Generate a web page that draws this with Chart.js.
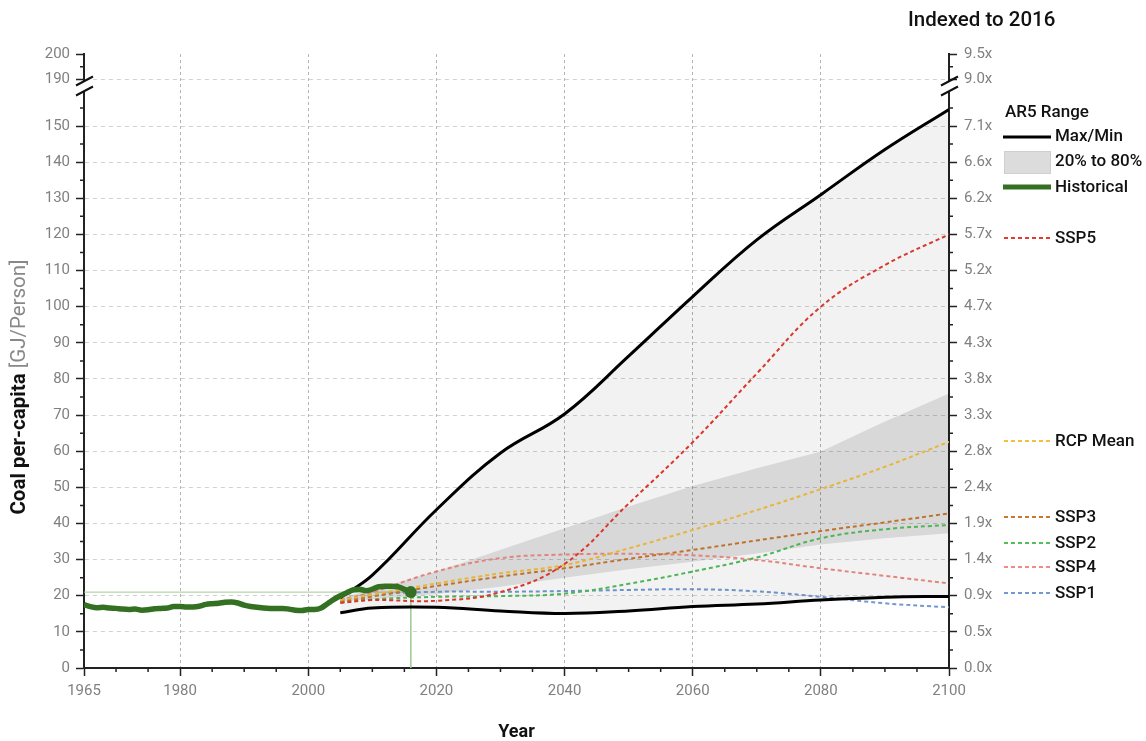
<!DOCTYPE html>
<html>
<head>
<meta charset="utf-8">
<script src="https://cdn.jsdelivr.net/npm/chart.js@4.4.1/dist/chart.umd.min.js"></script>
<style>
  html, body { margin: 0; padding: 0; background: #fff; }
  #wrap { width: 1146px; height: 741px; }
</style>
</head>
<body>
<div id="wrap"><canvas id="coalChart"></canvas></div>
<script>
// Historical coal per-capita (GJ/person), 1965-2016
const histYears = [];
for (let y = 1965; y <= 2016; y++) histYears.push(y);
const histValues = [17.5, 17.0, 16.7, 16.8, 16.6, 16.5, 16.3, 16.2, 16.3, 16.0,
    16.1, 16.4, 16.5, 16.6, 17.0, 17.0, 16.9, 16.9, 17.1, 17.6,
    17.8, 17.9, 18.2, 18.3, 18.0, 17.4, 17.0, 16.8, 16.6, 16.5,
    16.5, 16.5, 16.3, 16.0, 15.9, 16.2, 16.2, 16.6, 17.8, 19.0,
    20.0, 20.8, 21.6, 21.8, 21.4, 21.8, 22.5, 22.6, 22.6, 22.5,
    21.8, 21.0];

// AR5 / SSP projections
const projYears = [2005, 2010, 2020, 2030, 2040, 2050, 2060, 2070, 2080, 2090, 2100];
const ar5Max  = [19.5, 25.7, 43.8, 59.5, 70.3, 86.3, 102.8, 118.5, 131.0, 143.5, 154.6];
const ar5Min  = [15.3, 16.6, 16.8, 15.8, 15.1, 15.8, 17.0, 17.7, 18.8, 19.6, 19.8];
const ar5P80  = [19.5, 21.6, 26.7, 32.7, 38.7, 44.7, 50.4, 55.3, 59.9, 68.2, 76.0];
const ar5P20  = [18.5, 19.0, 20.5, 22.5, 25.0, 27.3, 29.4, 31.7, 34.2, 35.9, 37.3];
const ssp5    = [18.0, 18.8, 18.6, 21.0, 28.8, 45.5, 62.5, 81.5, 100.0, 111.5, 120.0];
const rcpMean = [18.8, 20.3, 23.4, 26.2, 28.5, 33.1, 38.2, 43.7, 49.5, 55.7, 62.6];
const ssp3    = [18.4, 19.8, 22.7, 25.3, 27.6, 30.2, 32.7, 35.3, 37.9, 40.3, 42.8];
const ssp2    = [18.2, 19.0, 19.7, 19.9, 20.6, 23.3, 26.7, 30.6, 35.9, 38.4, 39.6];
const ssp4    = [18.8, 21.0, 26.7, 30.4, 31.4, 31.6, 31.2, 29.9, 27.6, 25.5, 23.4];
const ssp1    = [19.0, 20.3, 21.1, 21.1, 21.3, 21.6, 21.8, 21.2, 19.7, 17.9, 16.8];

// Axis ticks
const xTickLabels = [1965, 1980, 2000, 2020, 2040, 2060, 2080, 2100];
const leftTicks = [0, 10, 20, 30, 40, 50, 60, 70, 80, 90, 100, 110, 120, 130, 140, 150];
const rightTickLabels = ['0.0x', '0.5x', '0.9x', '1.4x', '1.9x', '2.4x', '2.8x', '3.3x',
    '3.8x', '4.3x', '4.7x', '5.2x', '5.7x', '6.2x', '6.6x', '7.1x'];
const topTicks = [190, 200];
const topRightLabels = ['9.0x', '9.5x'];

const pts = (xs, ys) => xs.map((x, i) => ({ x: x, y: ys[i] }));
const lastHist = histValues[histValues.length - 1];
const FONT = 'Roboto, "Noto Sans", sans-serif';

const GREEN = '#337022';
const COLORS = {
    ssp5: '#e53a2f', rcp: '#f4bf3e', ssp3: '#c9782e',
    ssp2: '#52bf5a', ssp4: '#ef8c84', ssp1: '#7399d4'
};

function dashed(label, data, color) {
    return {
        label: label, data: pts(projYears, data), yAxisID: 'y', borderColor: color, borderWidth: 2,
        borderDash: [4, 3], pointRadius: 0, fill: false, tension: 0.4, order: 2
    };
}

// minor ticks, axis breaks, y title, right legend
const decorPlugin = {
    id: 'decor',
    afterDraw(chart) {
        const ctx = chart.ctx;
        const { left, right, bottom } = chart.chartArea;
        const sx = chart.scales.x, sy = chart.scales.y, sTop = chart.scales.yTop;
        ctx.save();
        ctx.strokeStyle = '#222';
        ctx.lineWidth = 1.5;
        ctx.beginPath();
        for (let yr = 1965; yr <= 2100; yr += 5) {
            if (xTickLabels.includes(yr)) continue;
            const px = sx.getPixelForValue(yr);
            ctx.moveTo(px, bottom); ctx.lineTo(px, bottom + 4);
        }
        for (let v = 5; v <= 155; v += 10) {
            const py = sy.getPixelForValue(v);
            ctx.moveTo(left - 4, py); ctx.lineTo(left, py);
            ctx.moveTo(right, py); ctx.lineTo(right + 4, py);
        }
        const py195 = sTop.getPixelForValue(195);
        ctx.moveTo(left - 4, py195); ctx.lineTo(left, py195);
        ctx.moveTo(right, py195); ctx.lineTo(right + 4, py195);
        ctx.stroke();

        // axis breaks
        const brk = sy.top;
        [left, right].forEach(ax => {
            ctx.fillStyle = '#fff';
            ctx.fillRect(ax - 2, brk - 5, 4, 9);
            ctx.strokeStyle = '#111';
            ctx.lineWidth = 2;
            ctx.beginPath();
            [-6, 4].forEach(off => {
                const yc = brk + off;
                ctx.moveTo(ax - 8, yc + 4.5);
                ctx.lineTo(ax + 9, yc - 4.5);
            });
            ctx.stroke();
        });

        // y axis title with two styles
        ctx.save();
        ctx.translate(20, 387);
        ctx.rotate(-Math.PI / 2);
        ctx.textBaseline = 'middle';
        ctx.textAlign = 'left';
        const boldPart = 'Coal per-capita ';
        const thinPart = '[GJ/Person]';
        ctx.font = 'bold 20.5px ' + FONT;
        const w1 = ctx.measureText(boldPart).width;
        ctx.font = '20.5px ' + FONT;
        const w2 = ctx.measureText(thinPart).width;
        const start = -(w1 + w2) / 2;
        ctx.font = 'bold 20.5px ' + FONT;
        ctx.fillStyle = '#111';
        ctx.fillText(boldPart, start, 0);
        ctx.font = '20.5px ' + FONT;
        ctx.fillStyle = '#888';
        ctx.fillText(thinPart, start + w1, 0);
        ctx.restore();

        // index title
        ctx.font = '500 20.5px ' + FONT;
        ctx.fillStyle = '#111';
        ctx.textAlign = 'left';
        ctx.textBaseline = 'middle';
        ctx.fillText('Indexed to 2016', 908, 21);

        // legend
        const lx0 = 1003, lx1 = 1051, tx = 1055;
        ctx.font = '500 17px ' + FONT;
        ctx.fillText('AR5 Range', 1005, 113);
        ctx.setLineDash([]);
        ctx.strokeStyle = '#000';
        ctx.lineWidth = 3;
        ctx.beginPath(); ctx.moveTo(lx0, 137); ctx.lineTo(lx1, 137); ctx.stroke();
        ctx.fillText('Max/Min', tx, 137);
        ctx.fillStyle = '#dcdcdc';
        ctx.fillRect(lx0 + 1, 151, lx1 - lx0 - 1, 23);
        ctx.strokeStyle = '#cfcfcf';
        ctx.lineWidth = 1;
        ctx.strokeRect(lx0 + 1.5, 151.5, lx1 - lx0 - 2, 22);
        ctx.fillStyle = '#111';
        ctx.fillText('20% to 80%', tx, 162);
        ctx.strokeStyle = GREEN;
        ctx.lineWidth = 5;
        ctx.beginPath(); ctx.moveTo(lx0, 187); ctx.lineTo(lx1, 187); ctx.stroke();
        ctx.fillText('Historical', tx, 188);

        const rows = [
            { label: 'SSP5', color: COLORS.ssp5, y: 238 },
            { label: 'RCP Mean', color: COLORS.rcp, y: 441 },
            { label: 'SSP3', color: COLORS.ssp3, y: 517 },
            { label: 'SSP2', color: COLORS.ssp2, y: 543 },
            { label: 'SSP4', color: COLORS.ssp4, y: 567 },
            { label: 'SSP1', color: COLORS.ssp1, y: 593 }
        ];
        rows.forEach(r => {
            ctx.strokeStyle = r.color;
            ctx.lineWidth = 2;
            ctx.setLineDash([4, 3]);
            ctx.beginPath(); ctx.moveTo(lx0 + 1, r.y); ctx.lineTo(lx1, r.y); ctx.stroke();
            ctx.setLineDash([]);
            ctx.fillStyle = '#111';
            ctx.fillText(r.label, tx, r.y + 1);
        });
        ctx.restore();
    }
};

const tickFont = { family: FONT, size: 15 };
const TICK_GRAY = '#808080';

new Chart(document.getElementById('coalChart'), {
    type: 'line',
    data: {
        datasets: [
            {
                label: 'Historical', data: pts(histYears, histValues), yAxisID: 'y', borderColor: GREEN,
                backgroundColor: GREEN, borderWidth: 5.5, fill: false,
                cubicInterpolationMode: 'monotone',
                pointRadius: c => (c.dataIndex === histValues.length - 1 ? 6 : 0),
                pointBorderWidth: 0, order: 0
            },
            {
                label: 'ref-h', data: [{ x: 1965, y: lastHist }, { x: 2016, y: lastHist }], yAxisID: 'y',
                borderColor: '#a3cb95', borderWidth: 1, pointRadius: 0, fill: false, order: 6
            },
            {
                label: 'ref-v', data: [{ x: 2016, y: lastHist }, { x: 2016, y: 0 }], yAxisID: 'y',
                borderColor: '#a3cb95', borderWidth: 1, pointRadius: 0, fill: false, order: 6
            },
            dashed('SSP5', ssp5, COLORS.ssp5),
            dashed('RCP Mean', rcpMean, COLORS.rcp),
            dashed('SSP3', ssp3, COLORS.ssp3),
            dashed('SSP2', ssp2, COLORS.ssp2),
            dashed('SSP4', ssp4, COLORS.ssp4),
            dashed('SSP1', ssp1, COLORS.ssp1),
            {
                label: 'Max', data: pts(projYears, ar5Max), yAxisID: 'y', borderColor: '#000', borderWidth: 3,
                pointRadius: 0, tension: 0.4,
                fill: '+1', backgroundColor: 'rgba(0,0,0,0.05)', order: 1
            },
            {
                label: 'Min', data: pts(projYears, ar5Min), yAxisID: 'y', borderColor: '#000', borderWidth: 3,
                pointRadius: 0, tension: 0.4, fill: false, order: 1
            },
            {
                label: '80%', data: pts(projYears, ar5P80), yAxisID: 'y', borderWidth: 0, pointRadius: 0,
                tension: 0, fill: '+1', backgroundColor: 'rgba(0,0,0,0.11)', order: 5
            },
            {
                label: '20%', data: pts(projYears, ar5P20), yAxisID: 'y', borderWidth: 0, pointRadius: 0,
                tension: 0, fill: false, order: 5
            }
        ]
    },
    options: {
        responsive: true,
        maintainAspectRatio: false,
        animation: false,
        layout: { padding: { top: 54, left: 0, right: 0, bottom: 0 } },
        plugins: { legend: { display: false }, tooltip: { enabled: false } },
        scales: {
            x: {
                type: 'linear', min: 1965, max: 2100,
                afterBuildTicks: s => { s.ticks = xTickLabels.map(v => ({ value: v })); },
                afterFit: s => { s.height = 73; },
                ticks: { font: tickFont, color: TICK_GRAY, padding: 6, maxRotation: 0, autoSkip: false,
                    callback: v => String(v) },
                grid: {
                    color: c => (c.tick && (c.tick.value === 1965 || c.tick.value === 2100) ? 'rgba(0,0,0,0)' : '#b3b3b3'),
                    lineWidth: 1, tickLength: 8, tickColor: '#222', tickWidth: 1.5
                },
                border: { color: '#222', width: 2, dash: [3, 3] },
                title: { display: true, text: 'Year', color: '#111',
                    font: { family: FONT, size: 18, weight: 'bold', lineHeight: 1 }, padding: { top: 0, bottom: 0 } }
            },
            y: {
                type: 'linear', position: 'left', stack: 'left', stackWeight: 581,
                min: 0, max: 160.8,
                afterBuildTicks: s => { s.ticks = leftTicks.map(v => ({ value: v })); },
                afterFit: s => { s.width = 84; },
                ticks: { font: tickFont, color: TICK_GRAY, padding: 6, autoSkip: false, callback: v => String(v) },
                grid: { color: c => (c.tick && c.tick.value === 0 ? 'rgba(0,0,0,0)' : '#d2d2d2'),
                    tickLength: 8, tickColor: '#222', tickWidth: 1.5 },
                border: { color: '#222', width: 2, dash: [4, 4] }
            },
            yTop: {
                type: 'linear', position: 'left', stack: 'left', stackWeight: 33,
                min: 187, max: 200,
                afterBuildTicks: s => { s.ticks = topTicks.map(v => ({ value: v })); },
                afterFit: s => { s.width = 84; },
                ticks: { font: tickFont, color: TICK_GRAY, padding: 6, autoSkip: false, callback: v => String(v) },
                grid: { color: c => (c.tick && c.tick.value === 190 ? '#d2d2d2' : 'rgba(0,0,0,0)'),
                    tickLength: 8, tickColor: '#222', tickWidth: 1.5 },
                border: { color: '#222', width: 2, dash: [4, 4] }
            },
            yRTop: {
                type: 'linear', position: 'right', stack: 'right', stackWeight: 33,
                min: 187, max: 200,
                afterBuildTicks: s => { s.ticks = topTicks.map(v => ({ value: v })); },
                afterFit: s => { s.width = 197; },
                ticks: { font: tickFont, color: TICK_GRAY, padding: 7, autoSkip: false,
                    callback: (v, i) => topRightLabels[i] },
                grid: { drawOnChartArea: false, tickLength: 8, tickColor: '#222', tickWidth: 1.5 },
                border: { color: '#222', width: 2 }
            },
            yR: {
                type: 'linear', position: 'right', stack: 'right', stackWeight: 581,
                min: 0, max: 160.8,
                afterBuildTicks: s => { s.ticks = leftTicks.map(v => ({ value: v })); },
                afterFit: s => { s.width = 197; },
                ticks: { font: tickFont, color: TICK_GRAY, padding: 7, autoSkip: false,
                    callback: (v, i) => rightTickLabels[i] },
                grid: { drawOnChartArea: false, tickLength: 8, tickColor: '#222', tickWidth: 1.5 },
                border: { color: '#222', width: 2 }
            }
        }
    },
    plugins: [decorPlugin]
});
</script>
</body>
</html>
